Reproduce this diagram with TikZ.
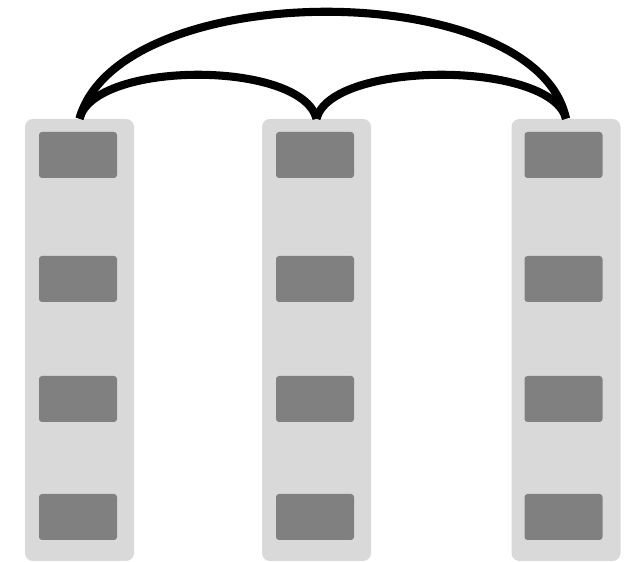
\documentclass[tikz,border=0pt]{standalone}
\usepackage{tikz}
\usetikzlibrary{positioning}

\definecolor{colgray}{HTML}{D9D9D9}
\definecolor{slotgray}{HTML}{808080}

\begin{document}
\begin{tikzpicture}[
  col/.style={rectangle,fill=colgray,rounded corners=4.5pt,minimum width=2.18cm,minimum height=8.84cm,inner sep=0pt},
  slot/.style={rectangle,fill=slotgray,rounded corners=1.7pt,minimum width=1.56cm,minimum height=0.92cm,inner sep=0pt},
  link/.style={line width=4.6pt,black}
]
\useasboundingbox (0,0) rectangle (12.52,11.24);

% Columns
\node[col] (col1) at (1.59,4.44) {};
\node[col] (col2) at (6.33,4.44) {};
\node[col] (col3) at (11.32,4.44) {};

% Slots in first column
\node[slot] (a1) at (1.56,8.14) {};
\node[slot] (a2) at (1.56,5.66) {};
\node[slot] (a3) at (1.56,3.26) {};
\node[slot] (a4) at (1.56,0.90) {};

% Slots in second column
\node[slot] (b1) at (6.30,8.14) {};
\node[slot] (b2) at (6.30,5.66) {};
\node[slot] (b3) at (6.30,3.26) {};
\node[slot] (b4) at (6.30,0.90) {};

% Slots in third column
\node[slot] (c1) at (11.27,8.14) {};
\node[slot] (c2) at (11.27,5.66) {};
\node[slot] (c3) at (11.27,3.26) {};
\node[slot] (c4) at (11.27,0.90) {};

% Links between column tops
\draw[link] (col1.north) .. controls +(0.8,2.85) and +(-0.6,2.85) .. (col3.north);
\draw[link] (col1.north) .. controls +(0.3,1.17) and +(-0.3,1.17) .. (col2.north);
\draw[link] (col2.north) .. controls +(0.3,1.17) and +(-0.3,1.17) .. (col3.north);
\end{tikzpicture}
\end{document}
